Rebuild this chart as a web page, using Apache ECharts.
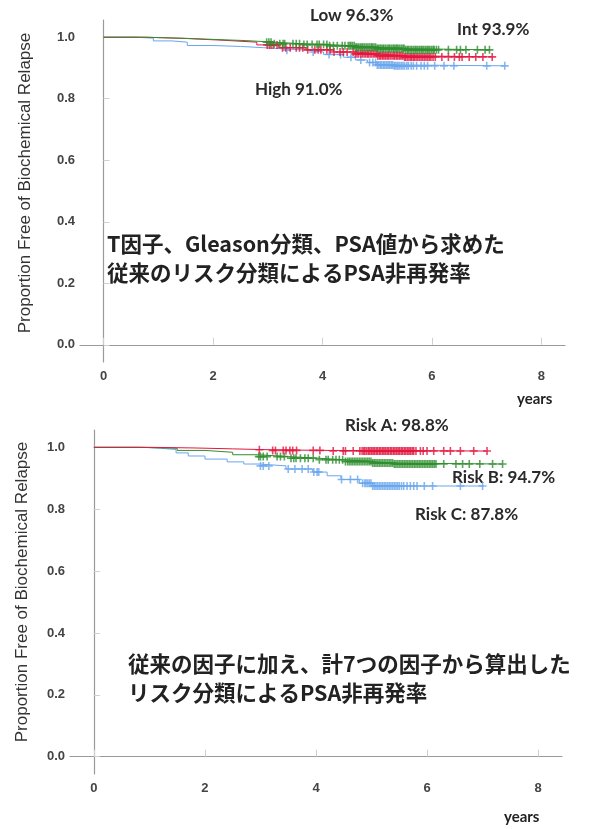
<!DOCTYPE html>
<html><head><meta charset="utf-8">
<script src="https://cdn.jsdelivr.net/npm/echarts@6/dist/echarts.min.js"></script>
<style>html,body{margin:0;padding:0;background:#fff}#c{width:589px;height:829px}</style>
</head><body><div id="c"></div>
<script>
// ---- tick labels
const X_TICKS = [0, 2, 4, 6, 8];
const Y_TICKS = [0, 0.2, 0.4, 0.6, 0.8, 1.0];
const Y_NAME = 'Proportion Free of Biochemical Relapse';
const X_NAME = 'years';

// ---- top panel: conventional risk groups (time in years, survival)
const topLow  = [[0,1],[0.7,0.997],[1.4,0.993],[2.0,0.989],[2.6,0.984],[3.1,0.979],[3.6,0.976],[4.1,0.972],[4.6,0.967],[5.0,0.963],[5.5,0.959],[7.07,0.959]];
const topInt  = [[0,1],[0.8,0.996],[1.5,0.99],[2.2,0.984],[2.8,0.975],[3.2,0.966],[3.7,0.959],[4.2,0.952],[4.6,0.946],[5.0,0.94],[5.5,0.936],[7.12,0.936]];
const topHigh = [[0,1],[0.6,0.997],[0.91,0.988],[1.25,0.984],[1.53,0.973],[2.0,0.97],[2.5,0.966],[2.92,0.962],[3.3,0.958],[3.72,0.952],[4.02,0.944],[4.38,0.935],[4.6,0.926],[4.82,0.918],[5.0,0.91],[5.3,0.907],[7.34,0.907]];
const topLowCens  = [2.98,3.02,3.06,3.12,3.22,3.28,3.31,3.46,3.52,3.58,3.66,3.72,3.81,3.9,3.94,4.02,4.08,4.13,4.2,4.27,4.36,4.41,4.47,4.5,4.52,4.55,4.58,4.61,4.63,4.66,4.69,4.72,4.74,4.77,4.8,4.83,4.86,4.89,4.91,4.94,4.97,5.0,5.02,5.05,5.07,5.1,5.12,5.15,5.18,5.21,5.23,5.26,5.29,5.31,5.34,5.36,5.38,5.41,5.44,5.47,5.49,5.52,5.55,5.57,5.6,5.63,5.66,5.69,5.71,5.74,5.77,5.8,5.82,5.85,5.88,5.91,5.93,5.96,5.99,6.02,6.04,6.08,6.12,6.3,6.45,6.52,6.62,6.83,6.97,7.05];
const topIntCens  = [2.99,3.03,3.06,3.1,3.17,3.27,3.33,3.41,3.52,3.58,3.64,3.73,3.86,3.92,3.97,4.08,4.14,4.21,4.32,4.38,4.45,4.56,4.6,4.63,4.66,4.7,4.73,4.76,4.79,4.82,4.84,4.87,4.9,4.93,4.96,4.99,5.01,5.04,5.06,5.09,5.11,5.14,5.16,5.19,5.21,5.24,5.27,5.3,5.32,5.35,5.37,5.4,5.42,5.45,5.47,5.5,5.52,5.55,5.58,5.61,5.63,5.66,5.68,5.71,5.74,5.77,5.8,5.83,5.86,5.89,5.92,5.95,5.98,6.02,6.06,6.18,6.3,6.41,6.5,6.55,6.68,6.8,6.93,7.1];
const topHighCens = [3.35,3.83,4.12,4.33,4.52,4.7,4.86,4.92,4.97,5.0,5.03,5.06,5.08,5.11,5.13,5.16,5.18,5.21,5.23,5.26,5.28,5.31,5.33,5.36,5.38,5.41,5.44,5.47,5.5,5.54,5.57,5.62,5.66,5.72,5.8,5.86,5.92,6.05,6.22,6.4,7.0,7.33];

// ---- bottom panel: 7-factor risk groups
const botA = [[0,1],[1.0,0.998],[1.8,0.995],[2.5,0.992],[3.2,0.99],[4.2,0.988],[7.09,0.988]];
const botB = [[0,1],[0.8,0.997],[1.5,0.99],[2.0,0.984],[2.5,0.976],[2.95,0.97],[3.5,0.965],[4.0,0.96],[4.5,0.954],[5.0,0.949],[5.4,0.946],[7.36,0.946]];
const botC = [[0,1],[0.9,0.997],[1.2,0.993],[1.48,0.982],[1.7,0.972],[2.0,0.962],[2.4,0.953],[2.7,0.946],[2.98,0.94],[3.46,0.93],[3.94,0.92],[4.2,0.908],[4.45,0.896],[4.78,0.884],[5.02,0.875],[7.02,0.875]];
const botACens = [2.98,3.22,3.27,3.41,3.46,3.53,3.58,3.65,3.95,4.07,4.31,4.49,4.53,4.67,4.79,4.83,4.86,4.88,4.91,4.94,4.96,4.99,5.01,5.04,5.06,5.09,5.11,5.14,5.16,5.19,5.21,5.24,5.26,5.29,5.31,5.34,5.36,5.39,5.41,5.44,5.46,5.49,5.51,5.54,5.56,5.59,5.61,5.64,5.66,5.69,5.71,5.74,5.76,5.8,5.88,5.93,6.0,6.12,6.3,6.42,6.6,6.84,7.08];
const botBCens = [2.97,3.0,3.05,3.12,3.3,3.36,3.43,3.55,3.6,3.64,3.72,3.8,3.86,3.95,4.06,4.18,4.22,4.3,4.36,4.42,4.48,4.53,4.57,4.6,4.63,4.66,4.69,4.72,4.75,4.78,4.81,4.84,4.87,4.9,4.93,4.96,4.99,5.02,5.05,5.08,5.11,5.14,5.17,5.2,5.23,5.26,5.29,5.32,5.35,5.38,5.41,5.44,5.47,5.5,5.53,5.56,5.59,5.62,5.65,5.68,5.71,5.74,5.77,5.8,5.83,5.86,5.89,5.92,5.95,5.98,6.01,6.04,6.07,6.1,6.13,6.16,6.3,6.52,6.64,6.76,6.95,7.18,7.36];
const botCCens = [3.0,3.05,3.15,3.5,3.62,3.75,3.86,3.96,4.02,4.05,4.46,4.62,4.75,4.84,4.88,4.9,4.93,4.96,4.99,5.02,5.05,5.08,5.11,5.14,5.17,5.2,5.23,5.26,5.29,5.32,5.35,5.38,5.41,5.44,5.47,5.5,5.54,5.58,5.64,5.7,5.76,5.82,5.95,6.1,6.6,7.0];

const RED = '#e3173e', GREEN = '#2f8f2f', BLUE = '#6aa6ee';
const PLUS = 'path://M4,0H6V4H10V6H6V10H4V6H0V4H4Z';

function yAt(curve, t) {
  let v = curve[0][1];
  for (const p of curve) { if (p[0] <= t) v = p[1]; else break; }
  return v;
}
function lineS(curve, color, idx) {
  return { type: 'line', xAxisIndex: idx, yAxisIndex: idx, data: curve, step: 'end',
    showSymbol: false, symbol: 'none', lineStyle: { color, width: 1 }, silent: true, z: 2 };
}
function censS(curve, times, color, idx) {
  return { type: 'scatter', xAxisIndex: idx, yAxisIndex: idx,
    data: times.map(t => [t, yAt(curve, t)]), symbol: PLUS, symbolSize: 8,
    itemStyle: { color }, silent: true, z: 3 };
}
function xAx(idx) {
  return { type: 'value', gridIndex: idx, min: -0.43, max: 8.43,
    axisLine: { lineStyle: { color: '#9a9a9a', width: 1.2 } },
    axisTick: { show: true, inside: true, length: 7, customValues: X_TICKS, lineStyle: { color: '#cfcfcf' } },
    axisLabel: { customValues: X_TICKS, margin: 8, color: '#444', fontWeight: 'bold', fontSize: 13, fontFamily: 'Liberation Sans' },
    splitLine: { show: false } };
}
function yAx(idx) {
  return { type: 'value', gridIndex: idx, min: -0.056, max: 1.056,
    axisLine: { show: true, lineStyle: { color: '#9a9a9a', width: 1.2 } },
    axisTick: { show: true, inside: true, length: 6, customValues: Y_TICKS, lineStyle: { color: '#cfcfcf' } },
    axisLabel: { customValues: Y_TICKS, margin: 5, color: '#444', fontWeight: 'bold', fontSize: 13, fontFamily: 'Liberation Sans',
      formatter: v => v.toFixed(1) },
    splitLine: { show: false } };
}
const lab = { fontFamily: 'Lato', fontWeight: 'bold', fontSize: 17, fill: '#2a2a2a' };
const jp = { fontFamily: 'Noto Sans CJK JP', fontWeight: 'bold', fontSize: 21.5, fill: '#222', lineHeight: 29 };
const yn = { fontFamily: 'Liberation Sans', fontSize: 17, fill: '#333', align: 'center', verticalAlign: 'middle' };
function txt(x, y, text, st, extra) {
  return Object.assign({ type: 'text', x, y, style: Object.assign({ text }, st) }, extra || {});
}

const chart = echarts.init(document.getElementById('c'), null, { renderer: 'canvas' });
chart.setOption({
  animation: false,
  backgroundColor: '#fff',
  grid: [
    { left: 80, right: 24, top: 20, height: 342 },
    { left: 70, right: 27, top: 430, height: 344 }
  ],
  xAxis: [xAx(0), xAx(1)],
  yAxis: [yAx(0), yAx(1)],
  series: [
    lineS(topHigh, BLUE, 0), lineS(topInt, RED, 0), lineS(topLow, GREEN, 0),
    censS(topHigh, topHighCens, BLUE, 0), censS(topInt, topIntCens, RED, 0), censS(topLow, topLowCens, GREEN, 0),
    lineS(botC, BLUE, 1), lineS(botB, GREEN, 1), lineS(botA, RED, 1),
    censS(botC, botCCens, BLUE, 1), censS(botB, botBCens, GREEN, 1), censS(botA, botACens, RED, 1)
  ],
  graphic: [
    txt(25, 183, Y_NAME, yn, { rotation: Math.PI / 2 }),
    txt(22, 592, Y_NAME, yn, { rotation: Math.PI / 2 }),
    txt(310, 7, 'Low 96.3%', lab),
    txt(457, 21, 'Int 93.9%', lab),
    txt(255, 81, 'High 91.0%', lab),
    txt(345, 417, 'Risk A: 98.8%', lab),
    txt(452, 469, 'Risk B: 94.7%', lab),
    txt(415, 506, 'Risk C: 87.8%', lab),
    txt(107, 229, 'T因子、Gleason分類、PSA値から求めた\n従来のリスク分類によるPSA非再発率', jp),
    txt(128, 649, '従来の因子に加え、計7つの因子から算出した\nリスク分類によるPSA非再発率', jp),
    txt(517, 392, X_NAME, { fontFamily: 'Lato', fontWeight: 'bold', fontSize: 15, fill: '#222' }),
    txt(504, 810, X_NAME, { fontFamily: 'Lato', fontWeight: 'bold', fontSize: 15, fill: '#222' })
  ]
});
</script></body></html>
